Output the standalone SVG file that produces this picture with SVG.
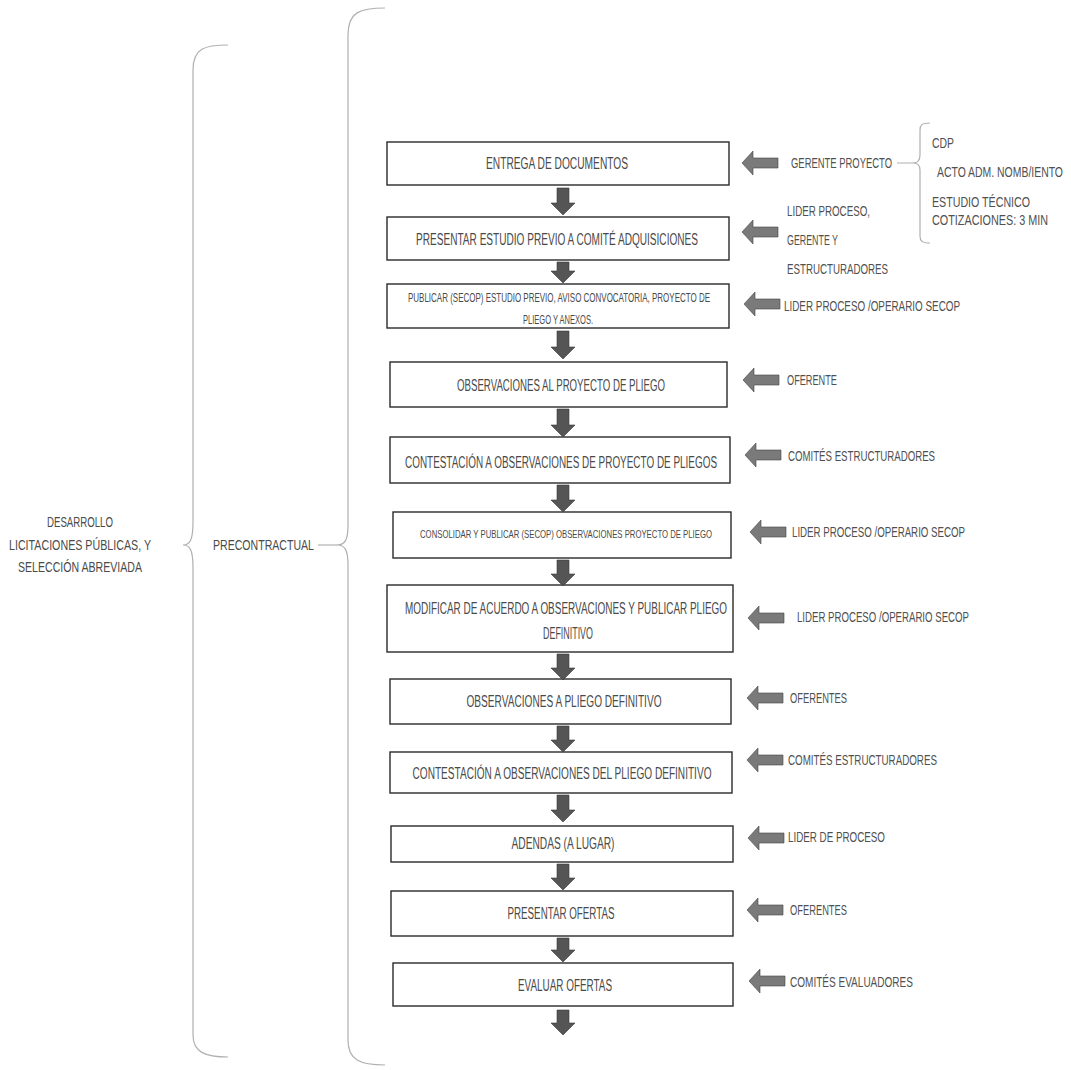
<svg xmlns="http://www.w3.org/2000/svg" width="1071" height="1070" viewBox="0 0 1071 1070">
<style>
.bx{fill:#fff;stroke:#2a2a2a;stroke-width:1.4}
.t{font-family:"Liberation Sans",Arial,sans-serif;fill:#4a4a4a}
.tm{text-anchor:middle}
.lb{font-family:"Liberation Sans",Arial,sans-serif;fill:#505050;font-size:15px}
.br{fill:none;stroke:#b0b0b0;stroke-width:1.2}
.da{fill:#555;stroke:#3a3a3a;stroke-width:0.6}
.la{fill:#7a7a7a;stroke:#444;stroke-width:0.6}
</style>
<defs>
<path id="lar" d="M0,0 L11,-12 L11,-5 L36,-5 L36,5 L11,5 L11,12 Z"/>
</defs>
<rect width="1071" height="1070" fill="#fff"/>

<g id="brace-desarrollo">
<path class="br" d="M228,45 C205,45 193,48 193,70 L193,522 C193,540 190,545 183,545 C190,545 193,550 193,568 L193,1035 C193,1052 205,1057 228,1057"/>
<text class="t tm" font-size="14" transform="translate(80,527) scale(.65,1)" textLength="101.5" lengthAdjust="spacingAndGlyphs">DESARROLLO</text>
<text class="t tm" font-size="14" transform="translate(80,550) scale(.65,1)" textLength="218.5" lengthAdjust="spacingAndGlyphs">LICITACIONES PÚBLICAS, Y</text>
<text class="t tm" font-size="14" transform="translate(80,572) scale(.65,1)" textLength="190.8" lengthAdjust="spacingAndGlyphs">SELECCIÓN ABREVIADA</text>
</g>

<g id="brace-precontractual">
<path class="br" d="M385,8 C360,8 348,12 348,35 L348,525 C348,540 345,545 337,545 C345,545 348,550 348,565 L348,1040 C348,1060 360,1065 385,1065"/>
<path class="br" d="M318,545 L337,545"/>
<text class="t" font-size="14" transform="translate(213,550) scale(.65,1)" textLength="155.4" lengthAdjust="spacingAndGlyphs">PRECONTRACTUAL</text>
</g>

<g id="n1"><rect class="bx" x="387" y="142" width="342" height="43"/>
<text class="t tm" font-size="17" transform="translate(557,169) scale(.65,1)" textLength="218.5" lengthAdjust="spacingAndGlyphs">ENTREGA DE DOCUMENTOS</text></g>
<g id="n2"><rect class="bx" x="387" y="217" width="342" height="43"/>
<text class="t tm" font-size="17" transform="translate(557,245) scale(.65,1)" textLength="433.8" lengthAdjust="spacingAndGlyphs">PRESENTAR ESTUDIO PREVIO A COMITÉ ADQUISICIONES</text></g>
<g id="n3"><rect class="bx" x="387" y="284" width="342" height="44"/>
<text class="t tm" font-size="12" transform="translate(559,302) scale(.65,1)" textLength="464.6" lengthAdjust="spacingAndGlyphs">PUBLICAR (SECOP) ESTUDIO PREVIO, AVISO CONVOCATORIA, PROYECTO DE</text>
<text class="t tm" font-size="12" transform="translate(558,324) scale(.65,1)" textLength="107.7" lengthAdjust="spacingAndGlyphs">PLIEGO Y ANEXOS.</text></g>
<g id="n4"><rect class="bx" x="390" y="362" width="337" height="45"/>
<text class="t tm" font-size="17" transform="translate(561,391) scale(.65,1)" textLength="320" lengthAdjust="spacingAndGlyphs">OBSERVACIONES AL PROYECTO DE PLIEGO</text></g>
<g id="n5"><rect class="bx" x="390" y="437" width="340" height="46"/>
<text class="t tm" font-size="17" transform="translate(561,468) scale(.65,1)" textLength="480" lengthAdjust="spacingAndGlyphs">CONTESTACIÓN A OBSERVACIONES DE PROYECTO DE PLIEGOS</text></g>
<g id="n6"><rect class="bx" x="393" y="512" width="338" height="46"/>
<text class="t tm" font-size="11" transform="translate(566,538) scale(.65,1)" textLength="449.2" lengthAdjust="spacingAndGlyphs">CONSOLIDAR Y PUBLICAR (SECOP) OBSERVACIONES PROYECTO DE PLIEGO</text></g>
<g id="n7"><rect class="bx" x="387" y="585" width="346" height="67"/>
<text class="t tm" font-size="17" transform="translate(566,614) scale(.65,1)" textLength="495.4" lengthAdjust="spacingAndGlyphs">MODIFICAR DE ACUERDO A OBSERVACIONES Y PUBLICAR PLIEGO</text>
<text class="t tm" font-size="17" transform="translate(568,639) scale(.65,1)" textLength="76.9" lengthAdjust="spacingAndGlyphs">DEFINITIVO</text></g>
<g id="n8"><rect class="bx" x="390" y="679" width="341" height="45"/>
<text class="t tm" font-size="17" transform="translate(564,707) scale(.65,1)" textLength="300" lengthAdjust="spacingAndGlyphs">OBSERVACIONES A PLIEGO DEFINITIVO</text></g>
<g id="n9"><rect class="bx" x="390" y="752" width="342" height="41"/>
<text class="t tm" font-size="17" transform="translate(562,779) scale(.65,1)" textLength="460" lengthAdjust="spacingAndGlyphs">CONTESTACIÓN A OBSERVACIONES DEL PLIEGO DEFINITIVO</text></g>
<g id="n10"><rect class="bx" x="391" y="826" width="342" height="36"/>
<text class="t tm" font-size="17" transform="translate(563,849) scale(.65,1)" textLength="158.5" lengthAdjust="spacingAndGlyphs">ADENDAS (A LUGAR)</text></g>
<g id="n11"><rect class="bx" x="391" y="891" width="342" height="45"/>
<text class="t tm" font-size="17" transform="translate(561,919) scale(.65,1)" textLength="164.6" lengthAdjust="spacingAndGlyphs">PRESENTAR OFERTAS</text></g>
<g id="n12"><rect class="bx" x="393" y="963" width="340" height="43"/>
<text class="t tm" font-size="17" transform="translate(565,991) scale(.65,1)" textLength="144.6" lengthAdjust="spacingAndGlyphs">EVALUAR OFERTAS</text></g>

<g id="r1"><text class="lb" transform="translate(791,168) scale(.65,1)" textLength="155.4" lengthAdjust="spacingAndGlyphs">GERENTE PROYECTO</text></g>
<g id="r1-docs">
<text class="lb" transform="translate(932,148) scale(.65,1)" textLength="33.8" lengthAdjust="spacingAndGlyphs">CDP</text>
<text class="lb" transform="translate(937,177) scale(.65,1)" textLength="193.8" lengthAdjust="spacingAndGlyphs">ACTO ADM. NOMB/IENTO</text>
<text class="lb" transform="translate(932,207) scale(.65,1)" textLength="150.8" lengthAdjust="spacingAndGlyphs">ESTUDIO TÉCNICO</text>
<text class="lb" transform="translate(932,225) scale(.65,1)" textLength="178.5" lengthAdjust="spacingAndGlyphs">COTIZACIONES: 3 MIN</text>
</g>
<g id="r2">
<text class="lb" transform="translate(787,216) scale(.65,1)" textLength="127.7" lengthAdjust="spacingAndGlyphs">LIDER PROCESO,</text>
<text class="lb" transform="translate(787,245) scale(.65,1)" textLength="78.5" lengthAdjust="spacingAndGlyphs">GERENTE Y</text>
<text class="lb" transform="translate(787,274) scale(.65,1)" textLength="155.4" lengthAdjust="spacingAndGlyphs">ESTRUCTURADORES</text>
</g>
<g id="r3"><text class="lb" transform="translate(784,311) scale(.65,1)" textLength="270.8" lengthAdjust="spacingAndGlyphs">LIDER PROCESO /OPERARIO SECOP</text></g>
<g id="r4"><text class="lb" transform="translate(787,385) scale(.65,1)" textLength="76.9" lengthAdjust="spacingAndGlyphs">OFERENTE</text></g>
<g id="r5"><text class="lb" transform="translate(788,461) scale(.65,1)" textLength="226.2" lengthAdjust="spacingAndGlyphs">COMITÉS ESTRUCTURADORES</text></g>
<g id="r6"><text class="lb" transform="translate(792,537) scale(.65,1)" textLength="266.2" lengthAdjust="spacingAndGlyphs">LIDER PROCESO /OPERARIO SECOP</text></g>
<g id="r7"><text class="lb" transform="translate(797,622) scale(.65,1)" textLength="264.6" lengthAdjust="spacingAndGlyphs">LIDER PROCESO /OPERARIO SECOP</text></g>
<g id="r8"><text class="lb" transform="translate(790,703) scale(.65,1)" textLength="87.7" lengthAdjust="spacingAndGlyphs">OFERENTES</text></g>
<g id="r9"><text class="lb" transform="translate(788,765) scale(.65,1)" textLength="229.2" lengthAdjust="spacingAndGlyphs">COMITÉS ESTRUCTURADORES</text></g>
<g id="r10"><text class="lb" transform="translate(788,842) scale(.65,1)" textLength="149.2" lengthAdjust="spacingAndGlyphs">LIDER DE PROCESO</text></g>
<g id="r11"><text class="lb" transform="translate(790,915) scale(.65,1)" textLength="87.7" lengthAdjust="spacingAndGlyphs">OFERENTES</text></g>
<g id="r12"><text class="lb" transform="translate(790,987) scale(.65,1)" textLength="189.2" lengthAdjust="spacingAndGlyphs">COMITÉS EVALUADORES</text></g>

<g id="connectors">
<path class="br" d="M897,163 L913,163 M930,123 C922,123 920,125 920,130 L920,155 C920,160 918,163 913,163 C918,163 920,166 920,170 L920,236 C920,241 922,243 930,243"/>
<polygon class="da" points="557,188 569,188 569,203 575,203 563,215 551,203 557,203"/>
<polygon class="da" points="557,262 569,262 569,271 575,271 563,283 551,271 557,271"/>
<polygon class="da" points="557,331 569,331 569,347 575,347 563,359 551,347 557,347"/>
<polygon class="da" points="557,409 569,409 569,425 575,425 563,437 551,425 557,425"/>
<polygon class="da" points="557,485 569,485 569,500 575,500 563,512 551,500 557,500"/>
<polygon class="da" points="557,560 569,560 569,574 575,574 563,586 551,574 557,574"/>
<polygon class="da" points="557,654 569,654 569,668 575,668 563,680 551,668 557,668"/>
<polygon class="da" points="557,726 569,726 569,740 575,740 563,752 551,740 557,740"/>
<polygon class="da" points="557,795 569,795 569,810 575,810 563,822 551,810 557,810"/>
<polygon class="da" points="557,864 569,864 569,878 575,878 563,890 551,878 557,878"/>
<polygon class="da" points="557,938 569,938 569,950 575,950 563,962 551,950 557,950"/>
<polygon class="da" points="557,1010 569,1010 569,1023 575,1023 563,1035 551,1023 557,1023"/>
<use href="#lar" class="la" transform="translate(742,163)"/>
<use href="#lar" class="la" transform="translate(742,232)"/>
<use href="#lar" class="la" transform="translate(744,304)"/>
<use href="#lar" class="la" transform="translate(743,380)"/>
<use href="#lar" class="la" transform="translate(745,455)"/>
<use href="#lar" class="la" transform="translate(750,532)"/>
<use href="#lar" class="la" transform="translate(748,618)"/>
<use href="#lar" class="la" transform="translate(747,698)"/>
<use href="#lar" class="la" transform="translate(747,760)"/>
<use href="#lar" class="la" transform="translate(748,838)"/>
<use href="#lar" class="la" transform="translate(747,910)"/>
<use href="#lar" class="la" transform="translate(749,981)"/>
</g>
</svg>
